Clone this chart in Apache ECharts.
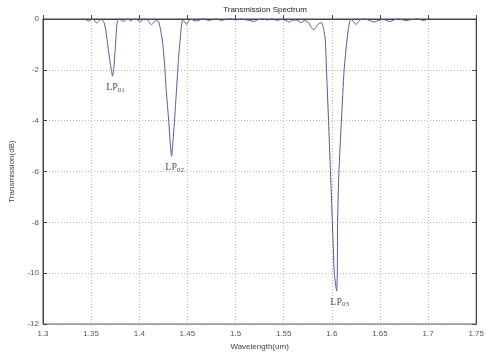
<!DOCTYPE html>
<html><head><meta charset="utf-8">
<script src="https://cdn.jsdelivr.net/npm/echarts@6/dist/echarts.min.js"></script>
<style>html,body{margin:0;padding:0;background:#fff}#c{width:487px;height:356px}</style>
</head><body><div id="c"></div>
<script>
var wavelength = [1.3435,1.3460,1.3480,1.3500,1.3520,1.3545,1.3560,1.3580,1.3600,1.3620,1.3635,1.3650,1.3665,1.3680,1.3695,1.3710,1.3722,1.3735,1.3750,1.3760,1.3770,1.3785,1.3810,1.3835,1.3860,1.3885,1.3910,1.3935,1.3960,1.3990,1.4015,1.4040,1.4070,1.4100,1.4125,1.4150,1.4175,1.4200,1.4220,1.4245,1.4265,1.4280,1.4295,1.4306,1.4320,1.4336,1.4350,1.4366,1.4378,1.4390,1.4405,1.4420,1.4437,1.4450,1.4470,1.4490,1.4510,1.4535,1.4560,1.4600,1.4640,1.4680,1.4720,1.4760,1.4800,1.4850,1.4900,1.4950,1.5000,1.5050,1.5100,1.5150,1.5190,1.5230,1.5280,1.5330,1.5380,1.5430,1.5480,1.5520,1.5560,1.5600,1.5640,1.5680,1.5720,1.5760,1.5790,1.5815,1.5840,1.5865,1.5895,1.5915,1.5932,1.5945,1.5966,1.5986,1.6006,1.6026,1.6050,1.6057,1.6060,1.6074,1.6100,1.6128,1.6158,1.6180,1.6200,1.6225,1.6250,1.6275,1.6300,1.6340,1.6390,1.6440,1.6490,1.6540,1.6600,1.6650,1.6700,1.6770,1.6830,1.6900,1.6950,1.7000];
var transmission = [0,-0.06,-0.09,-0.02,0,-0.12,-0.16,-0.08,-0.02,-0.05,-0.15,-0.4,-0.8,-1.25,-1.65,-2.0,-2.25,-1.95,-1.2,-0.6,-0.15,0,-0.04,-0.1,-0.03,0,-0.08,-0.02,0,-0.06,-0.1,-0.02,0,-0.1,-0.22,-0.15,-0.05,-0.1,-0.4,-1.0,-1.9,-2.8,-3.5,-4.0,-4.8,-5.4,-4.8,-4.0,-3.3,-2.6,-1.7,-1.0,-0.3,-0.05,-0.1,-0.22,-0.1,0,-0.05,-0.08,-0.02,0,-0.06,-0.03,0,-0.05,-0.02,0,-0.04,0,-0.03,-0.06,-0.1,-0.03,0,-0.04,0,-0.05,-0.02,-0.06,-0.12,-0.04,-0.05,-0.14,-0.06,-0.15,-0.35,-0.43,-0.3,-0.18,-0.15,-0.4,-0.8,-2.0,-4.0,-6.0,-8.0,-10.0,-10.7,-10.0,-8.0,-6.0,-4.0,-2.0,-0.8,-0.2,0,-0.1,-0.22,-0.1,-0.02,0,-0.06,-0.12,-0.05,-0.02,-0.1,-0.03,0,-0.06,-0.02,0,-0.06,0];
var modeNames = ['01','02','03'];
var modeWavelength = [1.3722, 1.4336, 1.6050];
var modeDepth = [-2.25, -5.4, -10.7];
var xTicks = [1.3,1.35,1.4,1.45,1.5,1.55,1.6,1.65,1.7,1.75];
var yTicks = [0,-2,-4,-6,-8,-10,-12];

var chart = echarts.init(document.getElementById('c'), null, {renderer:'canvas'});
var lineData = wavelength.map(function(w,i){return [w, transmission[i]];});
var modeData = modeNames.map(function(n,i){return {value:[modeWavelength[i], modeDepth[i]], name:n};});
var gridLine = {show:true, lineStyle:{color:'#b8b8b8', type:[1,2], width:1}};
chart.setOption({
  animation:false,
  title:{text:'Transmission Spectrum', left:260, textAlign:'center', top:1,
    textStyle:{fontFamily:'Liberation Sans, Arial', fontSize:8, fontWeight:'normal', color:'#222'}},
  grid:{left:37, right:5, top:19, bottom:28, show:true, borderColor:'#444', borderWidth:1, backgroundColor:'#fff'},
  xAxis:[{type:'value', min:1.3, max:1.75, interval:0.05,
    name:'Wavelength(um)', nameLocation:'middle', nameGap:15,
    nameTextStyle:{fontFamily:'Liberation Sans, Arial', fontSize:8, color:'#444'},
    axisLine:{show:true, lineStyle:{color:'#444'}},
    axisTick:{show:true, inside:true, length:4, lineStyle:{color:'#444'}},
    axisLabel:{fontFamily:'Liberation Sans, Arial', fontSize:8, color:'#555', margin:6,
      formatter:function(v){return String(+v.toFixed(2));}},
    splitLine:gridLine}],
  yAxis:[{type:'value', min:-12, max:0, interval:2,
    name:'Transmission(dB)', nameLocation:'middle', nameGap:27,
    nameTextStyle:{fontFamily:'Liberation Sans, Arial', fontSize:8, color:'#444'},
    axisLine:{show:true, lineStyle:{color:'#444'}},
    axisTick:{show:true, inside:true, length:4, lineStyle:{color:'#444'}},
    axisLabel:{fontFamily:'Liberation Sans, Arial', fontSize:8, color:'#555', margin:4},
    splitLine:gridLine},
    {type:'value', position:'right', min:-12, max:0, interval:2,
    axisLine:{show:true, lineStyle:{color:'#444'}},
    axisTick:{show:true, inside:true, length:4, lineStyle:{color:'#444'}},
    axisLabel:{show:false}, splitLine:{show:false}}],
  series:[
    {type:'line', data:lineData, showSymbol:false, symbol:'none', smooth:0.2,
     lineStyle:{color:'#535a9a', width:1}, clip:false, z:3},
    {type:'scatter', data:modeData, symbolSize:0, silent:true, z:4,
     label:{show:true, position:'bottom', distance:6, offset:[3,0],
       formatter:function(p){return '{a|LP}{b|'+p.name+'}';},
       rich:{a:{fontFamily:'Liberation Serif, Times New Roman', fontSize:10, color:'#222'},
             b:{fontFamily:'Liberation Serif, Times New Roman', fontSize:7, color:'#222', verticalAlign:'bottom', padding:[4,0,0,0]}}}}
  ]
});
</script>
</body></html>
